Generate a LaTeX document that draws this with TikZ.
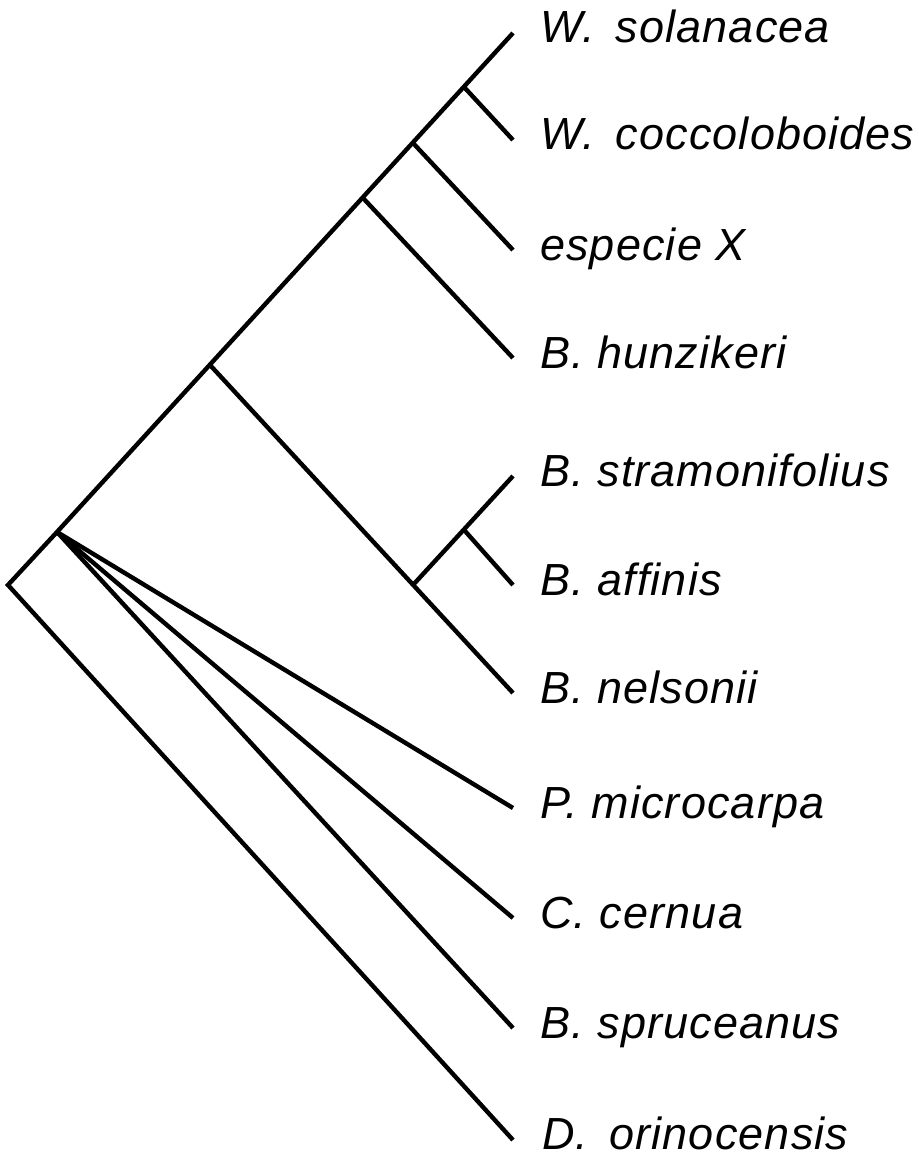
\documentclass[tikz,border=0pt]{standalone}
\usepackage{fontspec}
\setmainfont{Liberation Sans}[ItalicFeatures={LetterSpace=2.5}]
\usepackage{tikz}
\usetikzlibrary{calc}

\tikzset{
  branch/.style={line width=4.4pt, line cap=butt, line join=miter},
  taxon/.style={anchor=base west, inner sep=0pt, font=\fontsize{45}{50}\selectfont\itshape},
}

\begin{document}
\begin{tikzpicture}[x=1pt,y=-1pt]
            \useasboundingbox (0,0) rectangle (918,1158);
            % internal nodes
            \coordinate (R) at (8,585);
            \coordinate (A) at (57,532);
            \coordinate (n1) at (210,365);
            \coordinate (n2) at (363,198);
            \coordinate (n3) at (413,143);
            \coordinate (n4) at (464,87);
            \coordinate (n5) at (413,585);
            \coordinate (n6) at (465,531);
            % tips
            \coordinate (wsol) at (513,33);
            \coordinate (wcoc) at (513,140);
            \coordinate (espx) at (513,250);
            \coordinate (bhun) at (513,358);
            \coordinate (bstr) at (513,476);
            \coordinate (baff) at (513,585);
            \coordinate (bnel) at (513,693);
            \coordinate (pmic) at (513,808);
            \coordinate (ccer) at (513,918);
            \coordinate (bspr) at (513,1028);
            \coordinate (dori) at (513,1140);
            \node[taxon] (lwsol) at ($(wsol)+(27,10)$) {W.\ \,solanacea};
            \node[taxon] (lwcoc) at ($(wcoc)+(27,10)$) {W.\ \,coccoloboides};
            \node[taxon] (lespx) at ($(espx)+(27,10)$) {especie X};
            \node[taxon] (lbhun) at ($(bhun)+(27,10)$) {B. hunzikeri};
            \node[taxon] (lbstr) at ($(bstr)+(27,10)$) {B. stramonifolius};
            \node[taxon] (lbaff) at ($(baff)+(27,10)$) {B. affinis};
            \node[taxon] (lbnel) at ($(bnel)+(27,10)$) {B. nelsonii};
            \node[taxon] (lpmic) at ($(pmic)+(27,10)$) {P. microcarpa};
            \node[taxon] (lccer) at ($(ccer)+(27,10)$) {C. cernua};
            \node[taxon] (lbspr) at ($(bspr)+(27,10)$) {B. spruceanus};
            \node[taxon] (ldori) at ($(dori)+(29,9)$) {D.\ \,orinocensis};
            % branches
            \draw[branch] (dori) -- (R) -- (A) -- (wsol);
            \draw[branch] (n4) -- (wcoc);
            \draw[branch] (n3) -- (espx);
            \draw[branch] (n2) -- (bhun);
            \draw[branch] (n1) -- (bnel);
            \draw[branch] (n5) -- (bstr);
            \draw[branch] (n6) -- (baff);
            \draw[branch] (A) -- (pmic);
            \draw[branch] (A) -- (ccer);
            \draw[branch] (A) -- (bspr);
        \end{tikzpicture}
\end{document}
